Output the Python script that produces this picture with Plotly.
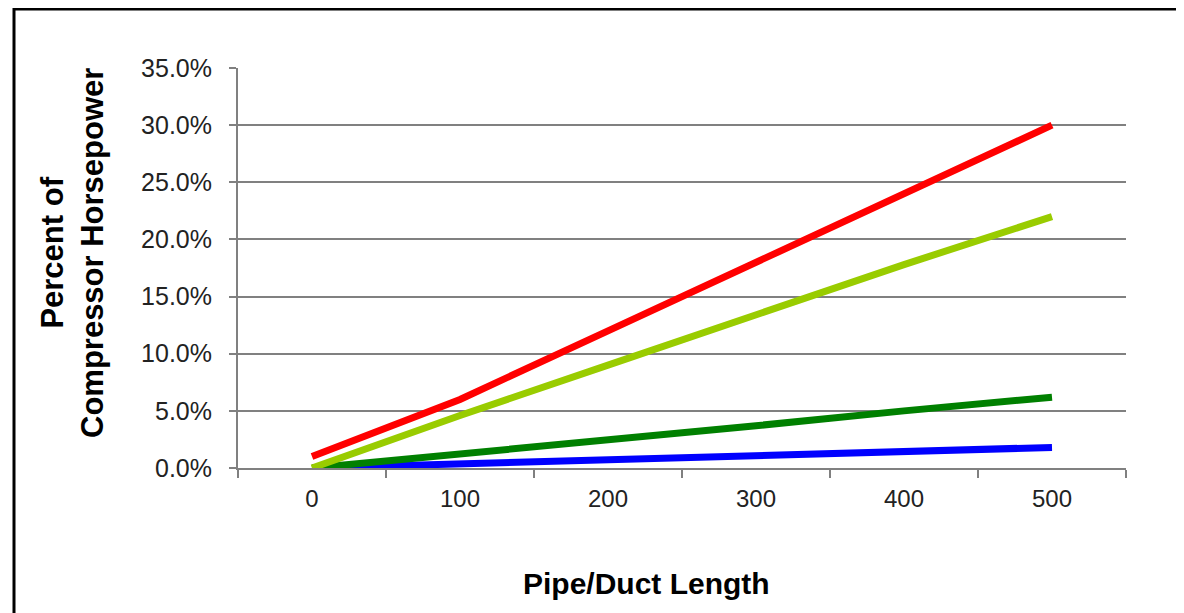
import plotly.graph_objects as go

# pipe/duct length (ft) and % of compressor horsepower lost
lengths = [0, 100, 200, 300, 400, 500]
red_pct = [1.0, 6.0, 12.0, 18.0, 24.0, 30.0]
lime_pct = [0.0, 4.6, 9.0, 13.4, 17.8, 22.0]
green_pct = [0.0, 1.2, 2.5, 3.7, 5.0, 6.2]
blue_pct = [0.0, 0.35, 0.75, 1.05, 1.4, 1.8]
y_ticks = [0, 5, 10, 15, 20, 25, 30, 35]
y_labels = [f"{v:.1f}%" for v in y_ticks]

# page body adds an 8px offset, so the figure is laid out in shifted coords
OFF = 8
W, H = 1184 - OFF, 613 - OFF
L, R, T, B = 238 - OFF, 58, 68 - OFF, 145
PW, PH = W - L - R, H - T - B


def px_x(x):
    # screen pixel -> plot paper fraction
    return (x - OFF - L) / PW


def px_y(y):
    return (H - B - (y - OFF)) / PH


series = [
    (blue_pct, "#0000ff"),
    (green_pct, "#008000"),
    (lime_pct, "#99cc00"),
    (red_pct, "#ff0000"),
]

fig = go.Figure()
for vals, col in series:
    fig.add_trace(go.Scatter(x=lengths, y=vals, mode="lines",
                             line=dict(color=col, width=7), showlegend=False))

font = "Liberation Sans, Arial, sans-serif"
fig.update_layout(
    width=W, height=H,
    margin=dict(l=L, r=R, t=T, b=B),
    paper_bgcolor="white", plot_bgcolor="white",
    font=dict(family=font, color="#222222"),
    showlegend=False,
)
fig.update_xaxes(
    range=[-50, 550], tickvals=lengths, ticks="", ticklabelstandoff=8,
    tickfont=dict(size=24, color="#222222"),
    showline=True, linecolor="#808080", linewidth=2,
    showgrid=False, zeroline=False,
    minor=dict(tickvals=[-50, 50, 150, 250, 350, 450, 550], ticks="outside",
               ticklen=8, tickwidth=2, tickcolor="#808080"),
)
fig.update_yaxes(
    range=[0, 35], tickvals=y_ticks, ticktext=y_labels,
    ticks="outside", ticklen=7, tickwidth=2, tickcolor="#808080",
    ticklabelstandoff=12,
    tickfont=dict(size=25, color="#222222"),
    showline=True, linecolor="#808080", linewidth=2,
    showgrid=True, gridcolor="#808080", gridwidth=2, zeroline=False,
)

fig.add_annotation(text="<b>Pipe/Duct Length</b>", xref="paper", yref="paper",
                   x=px_x(646), y=px_y(583), xanchor="center", yanchor="middle",
                   showarrow=False, font=dict(size=30, color="black", family=font))
fig.add_annotation(text="<b>Percent of<br>Compressor Horsepower</b>", xref="paper", yref="paper",
                   x=px_x(72), y=px_y(253), xanchor="center", yanchor="middle",
                   showarrow=False, textangle=-90,
                   font=dict(size=31, color="black", family=font))

# black frame around the figure
fig.add_shape(type="rect", xref="paper", yref="paper",
              x0=px_x(14), x1=px_x(1181), y0=px_y(640), y1=px_y(9),
              line=dict(color="black", width=3), layer="above")

fig.write_html("out.html")
